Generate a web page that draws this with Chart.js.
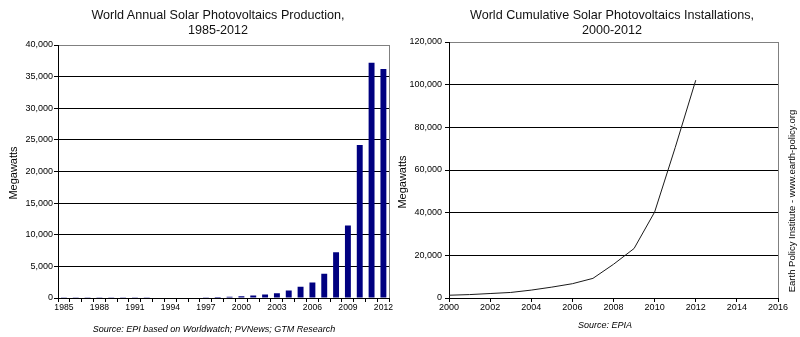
<!DOCTYPE html>
<html>
<head>
<meta charset="utf-8">
<script src="https://cdn.jsdelivr.net/npm/chart.js@4.4.1/dist/chart.umd.min.js"></script>
<style>
  html, body { margin:0; padding:0; background:#fff; }
  body { width:800px; height:337px; position:relative; overflow:hidden; font-family:"Liberation Sans", Arial, sans-serif; color:#000; }
  .box { position:absolute; top:0; }
  .txt { position:absolute; white-space:nowrap; text-align:center; }
  .title { font-size:12.6px; line-height:15px; color:#111; }
  .src { font-size:9px; line-height:12px; font-style:italic; }
  .rot { transform:rotate(-90deg); transform-origin:50% 50%; }
</style>
</head>
<body>
<div class="box" style="left:0;width:393px;height:337px;"><canvas id="c1" width="393" height="337"></canvas></div>
<div class="box" style="left:393px;width:407px;height:337px;"><canvas id="c2" width="407" height="337"></canvas></div>

<div class="txt title" style="left:0;width:436px;top:7.5px;">World Annual Solar Photovoltaics Production,<br>1985-2012</div>
<div class="txt title" style="left:412px;width:400px;top:7.5px;">World Cumulative Solar Photovoltaics Installations,<br>2000-2012</div>
<div class="txt src" style="left:14px;width:400px;top:323px;">Source: EPI based on Worldwatch; PVNews; GTM Research</div>
<div class="txt src" style="left:505px;width:200px;top:319px;">Source: EPIA</div>
<div class="txt rot" style="font-size:11px;line-height:14px;left:-37px;width:100px;top:166px;">Megawatts</div>
<div class="txt rot" style="font-size:11px;line-height:14px;left:352px;width:100px;top:175px;">Megawatts</div>
<div class="txt rot" style="font-size:9.5px;line-height:12px;left:692px;width:200px;top:195px;">Earth Policy Institute - www.earth-policy.org</div>

<script>
// ---- Data ----
const prodYears = [1985,1986,1987,1988,1989,1990,1991,1992,1993,1994,1995,1996,1997,1998,1999,2000,2001,2002,2003,2004,2005,2006,2007,2008,2009,2010,2011,2012];
const prodMW = [23,26,29,34,40,46,55,58,60,69,78,89,126,155,201,288,401,561,750,1170,1770,2450,3850,7250,11450,24200,37200,36200];
const cumYears = [2000,2001,2002,2003,2004,2005,2006,2007,2008,2009,2010,2011,2012];
const cumMW = [1300,1600,2100,2600,3700,5100,6700,9200,15800,23200,40300,70500,102100];
const leftYTicks = {min:0, max:40000, step:5000};
const rightYTicks = {min:0, max:120000, step:20000};
const rightXTicks = {min:2000, max:2016, step:2};

const fmt = v => Number(v).toLocaleString('en-US');
const FONT = "'Liberation Sans', Arial, sans-serif";

const rightBorder = {
  id:'rightBorder',
  afterDraw(chart){
    const {ctx, chartArea:a} = chart;
    ctx.save();
    ctx.strokeStyle = '#808080';
    ctx.lineWidth = 1;
    ctx.beginPath();
    ctx.moveTo(Math.round(a.right)+0.5, a.top);
    ctx.lineTo(Math.round(a.right)+0.5, a.bottom);
    ctx.stroke();
    ctx.restore();
  }
};

new Chart(document.getElementById('c1'), {
  type:'bar',
  data:{
    labels: prodYears.map(String),
    datasets:[{data:prodMW, backgroundColor:'#000080', borderWidth:0, barPercentage:0.5, categoryPercentage:1}]
  },
  options:{
    responsive:false, animation:false, devicePixelRatio:1,
    layout:{autoPadding:false, padding:{top:45, right:2, bottom:0, left:0}},
    plugins:{legend:{display:false}, tooltip:{enabled:false}},
    scales:{
      x:{
        offset:true,
        afterFit(s){ s.height = 39; },
        grid:{offset:true, drawOnChartArea:false, drawTicks:true, tickLength:4, color:'#000', tickColor:'#000'},
        border:{color:'#000'},
        ticks:{autoSkip:false, maxRotation:0, minRotation:0, padding:0, color:'#000', font:{family:FONT, size:8.6},
          callback(v, i){ return i % 3 === 0 ? prodYears[i] : ''; }}
      },
      y:{
        min:leftYTicks.min, max:leftYTicks.max,
        afterFit(s){ s.width = 58; },
        grid:{color:c => c.tick && c.tick.value === leftYTicks.max ? '#808080' : '#000', tickColor:'#000', tickLength:4},
        border:{color:'#000'},
        ticks:{stepSize:leftYTicks.step, padding:1, color:'#000', font:{family:FONT, size:9}, callback:v => fmt(v)}
      }
    }
  },
  plugins:[rightBorder]
});

new Chart(document.getElementById('c2'), {
  type:'line',
  data:{
    datasets:[{data:cumYears.map((y,i)=>({x:y, y:cumMW[i]})), borderColor:'#1a1a1a', borderWidth:1, pointRadius:0, tension:0, fill:false}]
  },
  options:{
    responsive:false, animation:false, devicePixelRatio:1,
    layout:{autoPadding:false, padding:{top:42, right:22, bottom:0, left:0}},
    plugins:{legend:{display:false}, tooltip:{enabled:false}},
    scales:{
      x:{
        type:'linear', min:rightXTicks.min, max:rightXTicks.max,
        afterFit(s){ s.height = 39; },
        grid:{drawOnChartArea:false, drawTicks:true, tickLength:4, color:'#000', tickColor:'#000'},
        border:{color:'#000'},
        ticks:{stepSize:rightXTicks.step, maxRotation:0, padding:0, color:'#000', font:{family:FONT, size:9}, callback:v => String(v)}
      },
      y:{
        min:rightYTicks.min, max:rightYTicks.max,
        afterFit(s){ s.width = 56; },
        grid:{color:c => c.tick && c.tick.value === rightYTicks.max ? '#808080' : '#000', tickColor:'#000', tickLength:4},
        border:{color:'#000'},
        ticks:{stepSize:rightYTicks.step, padding:3, color:'#000', font:{family:FONT, size:9}, callback:v => fmt(v)}
      }
    }
  },
  plugins:[rightBorder]
});
</script>
</body>
</html>
